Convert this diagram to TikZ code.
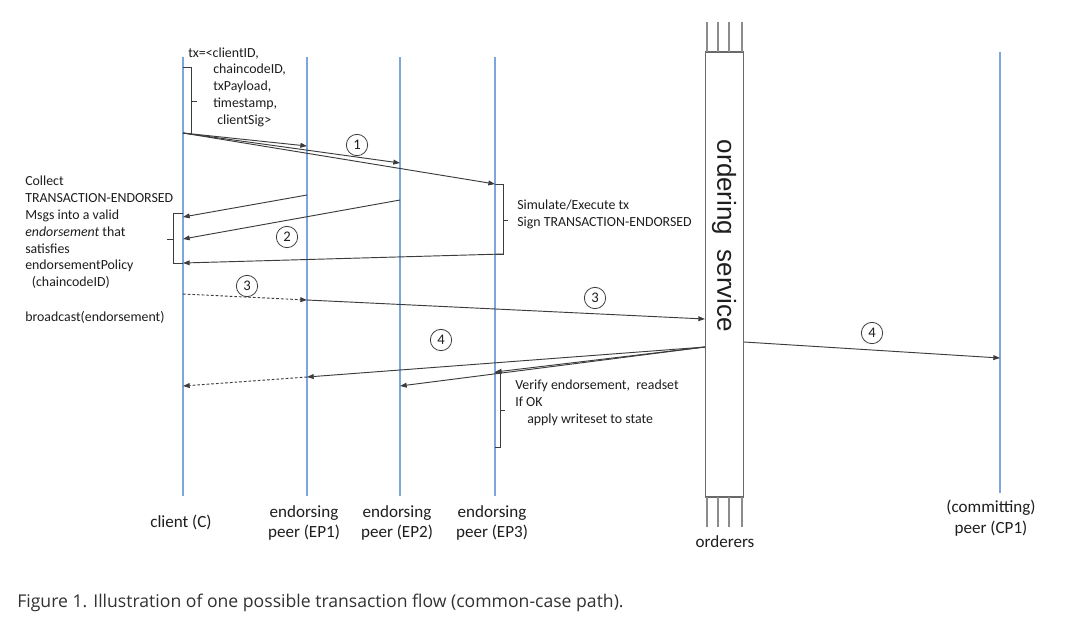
\documentclass[tikz,border=0pt]{standalone}
\usepackage{fontspec}
\setmainfont{Carlito}
\newfontfamily\arialf{Liberation Sans}
\newfontfamily\capf{Open Sans}
\usetikzlibrary{arrows.meta}
\definecolor{lifeblue}{RGB}{125,165,222}
\definecolor{arrowgray}{RGB}{60,60,60}
\definecolor{boxgray}{RGB}{105,105,105}
\definecolor{stubgray}{RGB}{140,140,140}
\definecolor{txtcol}{RGB}{30,30,30}
\definecolor{capcol}{RGB}{50,50,50}
\tikzset{
  lifeline/.style={draw=lifeblue, line width=0.8pt},
  msg/.style={draw=arrowgray, line width=0.7pt, -{Triangle[length=5pt,width=3.6pt]}},
  dmsg/.style={msg, dash pattern=on 2pt off 1.5pt},
  brack/.style={draw=arrowgray, line width=0.7pt},
  stub/.style={draw=stubgray, line width=1.1pt},
  note/.style={font=\fontsize{10.4}{12.6}\selectfont, text=txtcol, align=left, inner sep=0pt, anchor=west},
  party/.style={font=\fontsize{12.8}{15.5}\selectfont, text=txtcol, align=center, inner sep=0pt},
  circnum/.style={draw=arrowgray, line width=0.6pt, circle, minimum size=16pt, inner sep=0pt, font=\fontsize{11}{12}\selectfont, text=txtcol}
}
\begin{document}
\begin{tikzpicture}[x=0.75pt,y=-0.75pt]
\useasboundingbox (0,0) rectangle (1080,640);
\fill[white] (0,0) rectangle (1080,640);

% lifelines
\coordinate (Ctop) at (183,57);   \coordinate (Cbot) at (183,496);
\coordinate (E1top) at (307,57);  \coordinate (E1bot) at (307,496);
\coordinate (E2top) at (400,57);  \coordinate (E2bot) at (400,496);
\coordinate (E3top) at (495,57);  \coordinate (E3bot) at (495,496);
\coordinate (CPtop) at (1000,52); \coordinate (CPbot) at (1000,493);
\draw[lifeline] (Ctop) -- (Cbot);
\draw[lifeline] (E1top) -- (E1bot);
\draw[lifeline] (E2top) -- (E2bot);
\draw[lifeline] (E3top) -- (E3bot);
\draw[lifeline] (CPtop) -- (CPbot);

% ordering service box
\node[draw=boxgray, line width=0.8pt, minimum width=29pt, minimum height=333.75pt, inner sep=0pt, fill=white] (os) at (724.5,274.5) {};
\foreach \sx in {707,718,729,742}{
  \draw[stub] (\sx,22) -- (\sx,52);
  \draw[stub] (\sx,497) -- (\sx,527);
}
\node[rotate=-90, font=\arialf\fontsize{19.5}{21}\selectfont, text=txtcol, inner sep=0pt] (osl) at (724,236) {ordering\ \ service};

% top tx note and bracket
\node[note] (txnote) at (188,87) {tx=<clientID,\\
\hspace*{18.75pt}chaincodeID,\\
\hspace*{18.75pt}txPayload,\\
\hspace*{18.75pt}timestamp,\\
\hspace*{21.75pt}clientSig>};
\coordinate (b1a) at (183,67); \coordinate (b1b) at (191,67);
\coordinate (b1c) at (191,133); \coordinate (b1d) at (183,133);
\coordinate (b1m) at (191,101); \coordinate (b1t) at (197,101);
\draw[brack] (b1a) -- (b1b) -- (b1c) -- (b1d);
\draw[brack] (b1m) -- (b1t);

% step 1
\coordinate (s1) at (183,133);
\coordinate (e1a) at (307,146);
\coordinate (e2a) at (400,163);
\coordinate (e3a) at (495,184);
\draw[msg] (s1) -- (e1a);
\draw[msg] (s1) -- (e2a);
\draw[msg] (s1) -- (e3a);
\node[circnum] (n1) at (357,145) {1};

% EP3 bracket + note
\coordinate (b3a) at (503,184); \coordinate (b3b) at (503,254);
\coordinate (b3c) at (495,254);
\coordinate (b3m) at (503,220); \coordinate (b3t) at (508,220);
\draw[brack] (e3a) -- (b3a) -- (b3b) -- (b3c);
\draw[brack] (b3m) -- (b3t);
\node[note] (simnote) at (517,214.5) {Simulate/Execute tx\\Sign TRANSACTION-ENDORSED};

% step 2
\coordinate (r1s) at (307,195); \coordinate (r1e) at (183,217);
\coordinate (r2s) at (400,200); \coordinate (r2e) at (183,239);
\coordinate (r3e) at (183,263);
\draw[msg] (r1s) -- (r1e);
\draw[msg] (r2s) -- (r2e);
\draw[msg] (b3b) -- (r3e);
\node[circnum] (n2) at (287,237) {2};

% client collect bracket + note
\coordinate (cba) at (183,213); \coordinate (cbb) at (173,213);
\coordinate (cbc) at (173,263); \coordinate (cbd) at (183,263);
\coordinate (cbm) at (173,239); \coordinate (cbt) at (167,239);
\draw[brack] (cba) -- (cbb) -- (cbc) -- (cbd);
\draw[brack] (cbm) -- (cbt);
\node[note] (collect) at (25,232.5) {Collect\\
TRANSACTION-ENDORSED\\
Msgs into a valid\\
\textit{endorsement} that\\
satisfies\\
endorsementPolicy\\
\hspace*{5pt}(chaincodeID)};
\node[note] (bcast) at (25,317) {broadcast(endorsement)};

% step 3
\coordinate (t3s) at (183,294); \coordinate (t3m) at (307,300);
\coordinate (t3e) at (705,319);
\draw[dmsg] (t3s) -- (t3m);
\draw[msg] (t3m) -- (t3e);
\node[circnum] (n3a) at (247,286) {3};
\node[circnum] (n3b) at (595,298) {3};

% step 4
\coordinate (f0) at (705,347);
\coordinate (f1) at (307,377); \coordinate (fc) at (183,386);
\coordinate (f2) at (400,386);
\coordinate (f3) at (495,372);
\draw[msg] (f0) -- (f1);
\draw[dmsg] (f1) -- (fc);
\draw[msg] (f0) -- (f2);
\draw[msg] (f0) -- (f3);
\coordinate (g0) at (744,342); \coordinate (g1) at (1000,358);
\draw[msg] (g0) -- (g1);
\node[circnum] (n4a) at (441,340) {4};
\node[circnum] (n4b) at (872,333) {4};

% verify bracket + note
\coordinate (vb) at (500,372); \coordinate (vc) at (500,447);
\coordinate (vd) at (495,447);
\coordinate (vm) at (500,410); \coordinate (vt) at (505,410);
\draw[brack] (f3) -- (vb) -- (vc) -- (vd);
\draw[brack] (vm) -- (vt);
\node[note] (vnote) at (515,403) {Verify endorsement,\ \ readset\\
If OK\\
\hspace*{9pt}apply writeset to state};

% party labels
\node[party] (lc) at (181,522) {client (C)};
\node[party] (le1) at (304,523) {endorsing\\peer (EP1)};
\node[party] (le2) at (397,523) {endorsing\\peer (EP2)};
\node[party] (le3) at (492,523) {endorsing\\peer (EP3)};
\node[party] (lo) at (725,542) {orderers};
\node[party] (lcp) at (991,518) {(committing)\\peer (CP1)};

% caption
\node[font=\capf\fontsize{13.2}{15}\selectfont, text=capcol, anchor=west, inner sep=0pt] (cap) at (17,603) {Figure 1. Illustration of one possible transaction flow (common-case path).};
\end{tikzpicture}
\end{document}
